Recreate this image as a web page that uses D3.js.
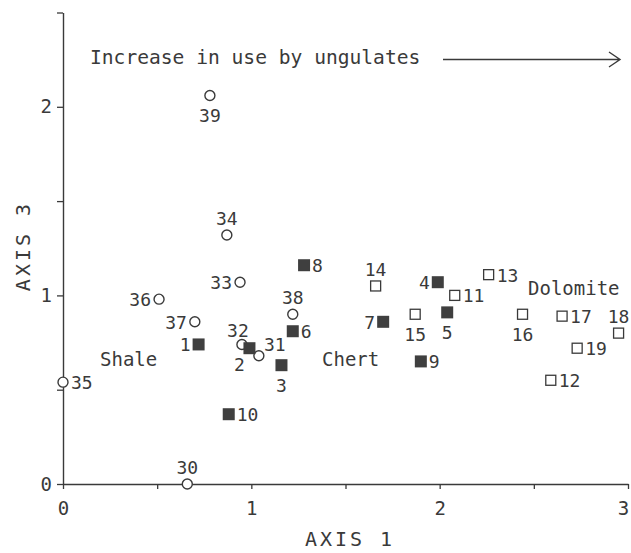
<!DOCTYPE html>
<html>
<head>
<meta charset="utf-8">
<script src="https://cdn.jsdelivr.net/npm/d3@7"></script>
<style>
  body { margin: 0; background: #fff; }
  svg { display: block; }
  text { font-family: "DejaVu Sans Mono", monospace; fill: #3a3a3a; }
</style>
</head>
<body>
<div id="chart"></div>
<script>
// Shale sites (open circles)
const shaleIds = [39, 34, 33, 36, 37, 38, 32, 31, 35, 30];
const shaleX = [0.78, 0.87, 0.94, 0.51, 0.70, 1.22, 0.95, 1.04, 0.00, 0.66];
const shaleY = [2.06, 1.32, 1.07, 0.98, 0.86, 0.90, 0.74, 0.68, 0.54, 0.00];

// Chert sites (filled squares)
const chertIds = [1, 2, 3, 6, 8, 10, 7, 4, 5, 9];
const chertX = [0.72, 0.99, 1.16, 1.22, 1.28, 0.88, 1.70, 1.99, 2.04, 1.90];
const chertY = [0.74, 0.72, 0.63, 0.81, 1.16, 0.37, 0.86, 1.07, 0.91, 0.65];

// Dolomite sites (open squares)
const dolomiteIds = [14, 15, 11, 13, 16, 17, 18, 19, 12];
const dolomiteX = [1.66, 1.87, 2.08, 2.26, 2.44, 2.65, 2.95, 2.73, 2.59];
const dolomiteY = [1.05, 0.90, 1.00, 1.11, 0.90, 0.89, 0.80, 0.72, 0.55];

const xTicks = [0, 0.5, 1, 1.5, 2, 2.5, 3];
const yTicks = [0, 0.5, 1, 1.5, 2, 2.5];

// where each site number sits relative to its marker
const labelSide = {
  39: "b", 34: "t", 33: "l", 36: "l", 37: "l", 38: "t", 32: "tl", 31: "tr", 35: "r", 30: "t",
  1: "l", 2: "bl", 3: "b", 6: "r", 8: "r", 10: "r", 7: "l", 4: "l", 5: "b", 9: "r",
  14: "t", 15: "b", 11: "r", 13: "r", 16: "b", 17: "r", 18: "t", 19: "r", 12: "r"
};

const width = 631, height = 553;
const ink = "#3a3a3a";

const svg = d3.select("#chart").append("svg")
  .attr("width", width).attr("height", height);

const x = d3.scaleLinear().domain([0, 3]).range([63, 628]);
const y = d3.scaleLinear().domain([0, 2.5]).range([484, 12.5]);

const fmt = (d) => (Number.isInteger(d) ? d : "");

// Axes
const xAxis = svg.append("g")
  .attr("transform", `translate(0,${y(0)})`)
  .call(d3.axisBottom(x).tickValues(xTicks).tickFormat(fmt).tickSize(5).tickSizeOuter(0).tickPadding(13));

const yAxis = svg.append("g")
  .attr("transform", `translate(${x(0)},0)`)
  .call(d3.axisLeft(y).tickValues(yTicks).tickFormat(fmt).tickSize(6).tickSizeOuter(0).tickPadding(5));

[xAxis, yAxis].forEach((a) => {
  a.select(".domain").attr("stroke", ink).attr("stroke-width", 1.4);
  a.selectAll(".tick line").attr("stroke", ink).attr("stroke-width", 1.3);
  a.selectAll(".tick text")
    .attr("font-family", '"DejaVu Sans Mono", monospace')
    .attr("font-size", 19)
    .attr("fill", ink);
});
// keep the last x label inside the frame
xAxis.selectAll(".tick text").filter((d) => d === 3).attr("dx", -5);

// Axis titles
svg.append("text")
  .attr("x", 350).attr("y", 546)
  .attr("text-anchor", "middle")
  .attr("font-size", 20)
  .attr("letter-spacing", 3)
  .text("AXIS 1");

svg.append("text")
  .attr("transform", "translate(30,246) rotate(-90)")
  .attr("text-anchor", "middle")
  .attr("font-size", 20)
  .attr("letter-spacing", 3)
  .text("AXIS 3");

// Title with arrow
svg.append("text")
  .attr("x", 90).attr("y", 64)
  .attr("font-size", 19.6)
  .text("Increase in use by ungulates");

svg.append("path")
  .attr("d", "M443,59.5H620M609,52L620,59.5L609,67")
  .attr("fill", "none")
  .attr("stroke", ink)
  .attr("stroke-width", 1.4);

// Region labels
const regions = [
  { name: "Shale", px: 100, py: 366 },
  { name: "Chert", px: 322, py: 366 },
  { name: "Dolomite", px: 528, py: 295 }
];
svg.selectAll("text.region").data(regions).enter().append("text")
  .attr("class", "region")
  .attr("x", (d) => d.px).attr("y", (d) => d.py)
  .attr("font-size", 19)
  .text((d) => d.name);

// Points
const shale = shaleIds.map((id, i) => ({ id, x: shaleX[i], y: shaleY[i] }));
const chert = chertIds.map((id, i) => ({ id, x: chertX[i], y: chertY[i] }));
const dolomite = dolomiteIds.map((id, i) => ({ id, x: dolomiteX[i], y: dolomiteY[i] }));

const marks = svg.append("g");

marks.selectAll("circle").data(shale).enter().append("circle")
  .attr("cx", (d) => x(d.x)).attr("cy", (d) => y(d.y))
  .attr("r", 5)
  .attr("fill", "#fff")
  .attr("stroke", ink)
  .attr("stroke-width", 1.4);

marks.selectAll("rect.chert").data(chert).enter().append("rect")
  .attr("class", "chert")
  .attr("x", (d) => x(d.x) - 6).attr("y", (d) => y(d.y) - 6)
  .attr("width", 12).attr("height", 12)
  .attr("fill", "#3f3f3f");

marks.selectAll("rect.dolo").data(dolomite).enter().append("rect")
  .attr("class", "dolo")
  .attr("x", (d) => x(d.x) - 5).attr("y", (d) => y(d.y) - 5)
  .attr("width", 10).attr("height", 10)
  .attr("fill", "#fff")
  .attr("stroke", ink)
  .attr("stroke-width", 1.3);

// Site numbers
const offsets = {
  t: [0, -10, "middle"],
  b: [0, 27, "middle"],
  l: [-8, 7, "end"],
  r: [8, 7, "start"],
  tl: [-4, -7, "middle"],
  tr: [16, -5, "middle"],
  bl: [-10, 23, "middle"]
};

const all = shale.concat(chert, dolomite);
svg.append("g").selectAll("text").data(all).enter().append("text")
  .attr("x", (d) => x(d.x) + offsets[labelSide[d.id]][0])
  .attr("y", (d) => y(d.y) + offsets[labelSide[d.id]][1])
  .attr("text-anchor", (d) => offsets[labelSide[d.id]][2])
  .attr("font-size", 18)
  .text((d) => d.id);
</script>
</body>
</html>
